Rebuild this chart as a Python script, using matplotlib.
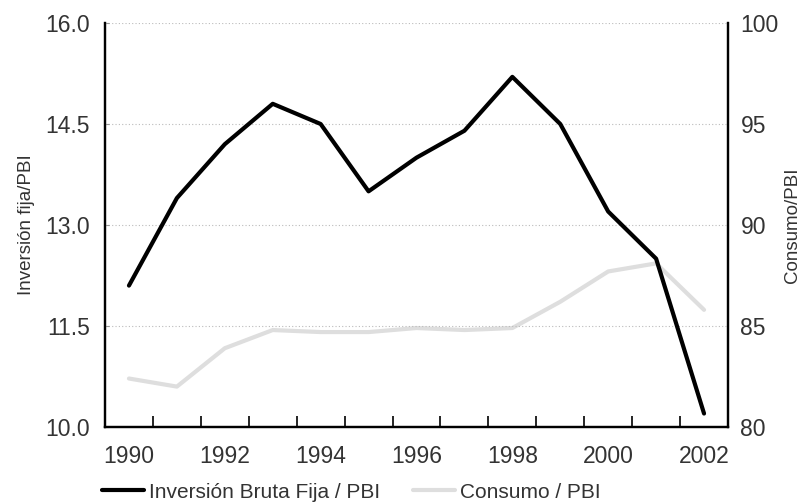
import numpy as np
import matplotlib
matplotlib.use('Agg')
import matplotlib.pyplot as plt

plt.rcParams['font.family'] = ['Liberation Sans', 'DejaVu Sans']

# data
years = [1990, 1991, 1992, 1993, 1994, 1995, 1996, 1997, 1998, 1999, 2000, 2001, 2002]
inversion = [12.1, 13.4, 14.2, 14.8, 14.5, 13.5, 14.0, 14.4, 15.2, 14.5, 13.2, 12.5, 10.2]
consumo = [82.4, 82.0, 83.9, 84.8, 84.7, 84.7, 84.9, 84.8, 84.9, 86.2, 87.7, 88.1, 85.8]
left_ticks = [10.0, 11.5, 13.0, 14.5, 16.0]
right_ticks = [80, 85, 90, 95, 100]

txt = '#333333'
grey = '#dedede'

fig = plt.figure(figsize=(8.04, 5.03), dpi=100)
ax = fig.add_axes([105/804, 1-427/503, (728-105)/804, (427-23)/503])
ax2 = ax.twinx()

x = np.arange(len(years))
l2, = ax2.plot(x, consumo, color=grey, lw=3, solid_capstyle='round', label='Consumo / PBI')
l1, = ax.plot(x, inversion, color='black', lw=3, solid_capstyle='round', label='Inversión Bruta Fija / PBI')
ax.set_zorder(ax2.get_zorder()+1)
ax.patch.set_visible(False)

ax.set_xlim(-0.5, len(years)-0.5)
ax.set_ylim(10, 16)
ax2.set_ylim(80, 100)

# category axis: ticks between years, labels every other year
ax.set_xticks(np.arange(0.5, len(years)-1, 1.0))
ax.set_xticklabels([])
ax.set_xticks(x[::2], minor=True)
ax.set_xticklabels([str(y) for y in years[::2]], minor=True)
ax.tick_params(axis='x', which='major', direction='in', length=8, width=1.2, color='black')
ax.tick_params(axis='x', which='minor', length=0, pad=13, labelsize=16.5, labelcolor=txt)

ax.set_yticks(left_ticks)
ax.set_yticklabels(['%.1f' % v for v in left_ticks])
ax.tick_params(axis='y', direction='in', length=3, width=0.8, color='#999999', pad=11, labelsize=16.5, labelcolor=txt)
ax2.set_yticks(right_ticks)
ax2.tick_params(axis='y', direction='in', length=0, pad=9, labelsize=16.5, labelcolor=txt)

ax.grid(axis='y', linestyle=(0, (1, 2)), color='#bbbbbb', lw=0.8)
ax.set_axisbelow(True)

for a in (ax, ax2):
    a.spines['top'].set_visible(False)
    for s in ('left', 'right', 'bottom'):
        a.spines[s].set_linewidth(1.6)
        a.spines[s].set_color('black')

ax.set_ylabel('Inversión fija/PBI', fontsize=13.5, color=txt, labelpad=7)
ax2.set_ylabel('Consumo/PBI', fontsize=13.5, color=txt, labelpad=4)

fig.legend(handles=[l1, l2], loc='center left', bbox_to_anchor=(102/804, 1-492/503),
           ncol=2, frameon=False, fontsize=15, handlelength=2.0, handletextpad=0.25,
           columnspacing=1.6, borderpad=0, borderaxespad=0, labelcolor=txt)

fig.savefig('out.png', dpi=100)
